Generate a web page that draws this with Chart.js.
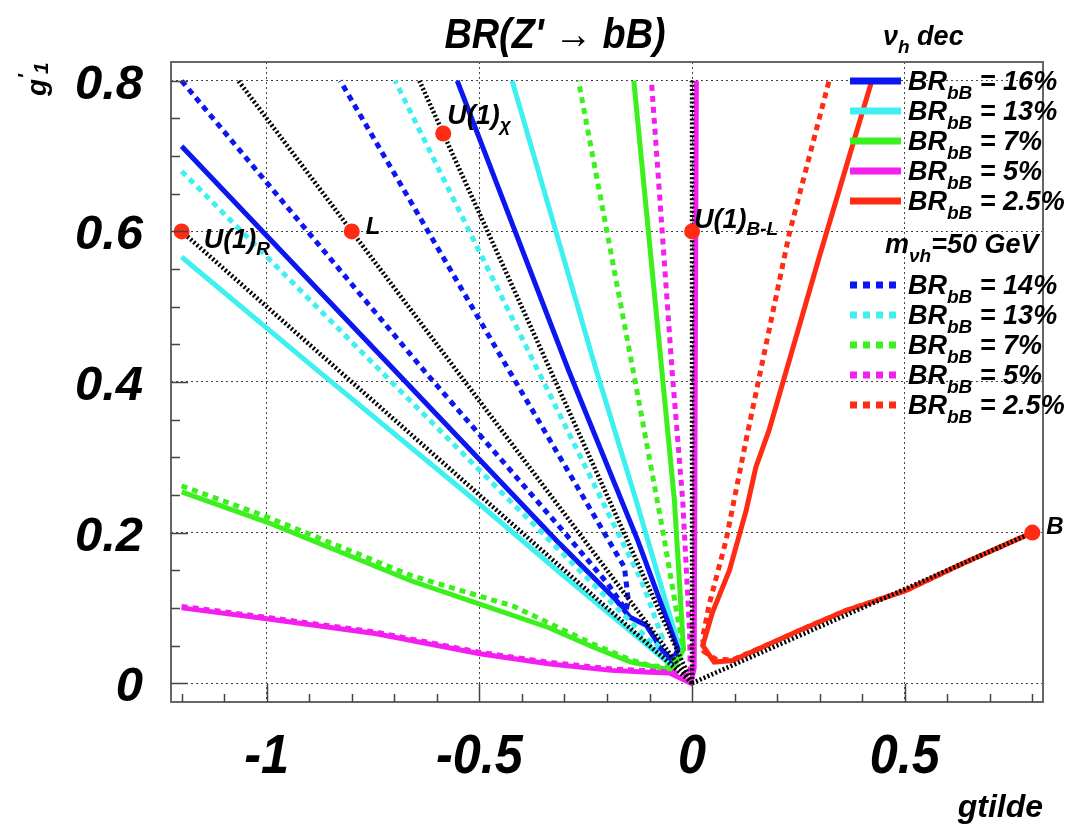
<!DOCTYPE html>
<html>
<head>
<meta charset="utf-8">
<title>BR(Z' → bB)</title>
<script src="https://cdn.jsdelivr.net/npm/chart.js@4.4.0/dist/chart.umd.min.js"></script>
<style>
  html, body { margin: 0; padding: 0; background: #fff; }
  canvas { display: block; }
</style>
</head>
<body>
<canvas id="chart" width="1071" height="826"></canvas>
<script>
// axis ticks
const xTicks = [-1, -0.5, 0, 0.5];
const xTickLabels = ['-1', '-0.5', '0', '0.5'];
const yTicks = [0, 0.2, 0.4, 0.6, 0.8];
const yTickLabels = ['0', '0.2', '0.4', '0.6', '0.8'];

// BR(Z' -> bB) contours with heavy neutrino decays (solid)
const brSolid = ['16%', '13%', '7%', '5%', '2.5%'];
const blueSolidX = [-1.2, -0.71, -0.311, -0.178, -0.147, -0.108, -0.085, -0.077, -0.046, -0.033, -0.128, -0.29, -0.552];
const blueSolidY = [0.713, 0.422, 0.185, 0.11, 0.088, 0.077, 0.057, 0.048, 0.03, 0.045, 0.19, 0.415, 0.8];
const cyanSolidX = [-1.2, -0.88, -0.5, -0.311, -0.1, -0.052, -0.028, -0.1315, -0.225, -0.423];
const cyanSolidY = [0.566, 0.415, 0.238, 0.147, 0.048, 0.025, 0.043, 0.2426, 0.415, 0.8];
const greenSolidX = [-1.2, -1.0, -0.661, -0.499, -0.338, -0.233, -0.144, -0.108, -0.061, -0.045, -0.02, -0.0415, -0.137];
const greenSolidY = [0.254, 0.214, 0.136, 0.105, 0.074, 0.048, 0.028, 0.024, 0.019, 0.019, 0.045, 0.2426, 0.8];
const magentaSolidX = [-1.2, -1.0, -0.742, -0.499, -0.338, -0.265, -0.19, -0.1, -0.053, -0.003, 0.005, 0.01];
const magentaSolidY = [0.1, 0.0855, 0.0656, 0.039, 0.0258, 0.0213, 0.017, 0.0145, 0.0135, 0.0, 0.02, 0.8];
const redSolidX = [0.8, 0.784, 0.635, 0.502, 0.3615, 0.252, 0.166, 0.095, 0.052, 0.025, 0.048, 0.088, 0.127, 0.15, 0.181, 0.299, 0.4225];
const redSolidY = [0.2, 0.196, 0.1585, 0.123, 0.0965, 0.07, 0.048, 0.03, 0.028, 0.05, 0.094, 0.15, 0.229, 0.287, 0.336, 0.566, 0.8];

// same contours for m_nuh = 50 GeV (dashed)
const brDashed = ['14%', '13%', '7%', '5%', '2.5%'];
const blueDashX = [-1.2, -0.63, -0.3, -0.198, -0.155, -0.15, -0.159, -0.21, -0.43, -0.827];
const blueDashY = [0.8, 0.415, 0.2, 0.132, 0.0965, 0.11, 0.154, 0.203, 0.415, 0.8];
const cyanDashX = [-1.2, -0.733, -0.265, -0.147, -0.085, -0.07, -0.104, -0.1228, -0.204, -0.362, -0.698];
const cyanDashY = [0.68, 0.415, 0.15, 0.083, 0.048, 0.06, 0.114, 0.1408, 0.2337, 0.415, 0.8];
const greenDashX = [-1.2, -1.0, -0.661, -0.419, -0.233, -0.144, -0.096, -0.055, -0.02, -0.03, -0.069, -0.1385, -0.267];
const greenDashY = [0.262, 0.221, 0.143, 0.102, 0.052, 0.031, 0.023, 0.021, 0.045, 0.074, 0.203, 0.415, 0.8];
const magentaDashX = [-1.2, -1.0, -0.742, -0.499, -0.338, -0.19, -0.1, -0.053, -0.004, -0.006, -0.022, -0.047, -0.0955];
const magentaDashY = [0.102, 0.0875, 0.0676, 0.041, 0.0278, 0.019, 0.0165, 0.0155, 0.01, 0.07, 0.2426, 0.415, 0.8];
const redDashX = [0.8, 0.784, 0.635, 0.502, 0.3615, 0.252, 0.166, 0.095, 0.055, 0.028, 0.025, 0.0406, 0.0798, 0.1268, 0.2284, 0.322];
const redDashY = [0.2, 0.196, 0.1585, 0.123, 0.0965, 0.07, 0.048, 0.031, 0.032, 0.042, 0.061, 0.1054, 0.1895, 0.3223, 0.5968, 0.8];

// benchmark models and their directions through the origin
const modelNames = ['U(1)_R', 'L', 'U(1)_χ', 'U(1)_B-L', 'B'];
const modelX = [-1.2, -0.8, -0.585, 0, 0.8];
const modelY = [0.6, 0.6, 0.73, 0.6, 0.2];
const rayEndX = [-1.2, -1.0667, -0.641, 0, 0.8];
const rayEndY = [0.6, 0.8, 0.8, 0.8, 0.2];

const BLUE = '#0b16f0';
const CYAN = '#3ff0f0';
const GREEN = '#3cf01e';
const MAGENTA = '#f51ef0';
const RED = '#ff2b12';
const colors = [BLUE, CYAN, GREEN, MAGENTA, RED];

const xy = (xs, ys) => xs.map((x, i) => ({ x, y: ys[i] }));

const solidSeries = [
    [blueSolidX, blueSolidY], [cyanSolidX, cyanSolidY], [greenSolidX, greenSolidY],
    [magentaSolidX, magentaSolidY], [redSolidX, redSolidY]
];
const dashSeries = [
    [blueDashX, blueDashY], [cyanDashX, cyanDashY], [greenDashX, greenDashY],
    [magentaDashX, magentaDashY], [redDashX, redDashY]
];

const datasets = [];
solidSeries.forEach(([xs, ys], i) => {
    datasets.push({
        label: 'BR_bB = ' + brSolid[i],
        data: xy(xs, ys),
        showLine: true,
        borderColor: colors[i],
        borderWidth: 5,
        pointRadius: 0,
        order: 4
    });
});
dashSeries.forEach(([xs, ys], i) => {
    datasets.push({
        label: 'BR_bB = ' + brDashed[i] + ' (m_nuh = 50 GeV)',
        data: xy(xs, ys),
        showLine: true,
        borderColor: colors[i],
        borderWidth: 5,
        borderDash: [6, 5],
        borderCapStyle: 'butt',
        pointRadius: 0,
        order: 3
    });
});
rayEndX.forEach((x, i) => {
    datasets.push({
        label: modelNames[i] + ' direction',
        data: xy([0, x], [0, rayEndY[i]]),
        showLine: true,
        borderColor: '#000',
        borderWidth: 4.5,
        borderDash: [2, 2.2],
        borderCapStyle: 'butt',
        pointRadius: 0,
        order: 2
    });
});
datasets.push({
    label: 'models',
    data: xy(modelX, modelY),
    showLine: false,
    pointRadius: 8,
    pointBackgroundColor: RED,
    pointBorderWidth: 0,
    order: 1
});

// text helpers: parts are [text, size, baseline shift]
const FONT = "'Liberation Sans', Arial, Helvetica, sans-serif";
const fontOf = size => 'italic bold ' + size + 'px ' + FONT;

function drawRich(ctx, parts, x, y, align, squeeze) {
    const sq = squeeze || 1;
    let w = 0;
    parts.forEach(p => { ctx.font = fontOf(p[1]); w += ctx.measureText(p[0]).width; });
    let cx = align === 'right' ? -w : align === 'center' ? -w / 2 : 0;
    ctx.save();
    ctx.translate(x, y);
    ctx.scale(sq, 1);
    ctx.fillStyle = '#000';
    ctx.textAlign = 'left';
    ctx.textBaseline = 'alphabetic';
    parts.forEach(p => {
        ctx.font = fontOf(p[1]);
        ctx.fillText(p[0], cx, p[2] || 0);
        cx += ctx.measureText(p[0]).width;
    });
    ctx.restore();
}

const labelStyle = {
    'U(1)_R': { dx: 22, dy: 17, size: 27 },
    'L': { dx: 14, dy: 3, size: 24 },
    'U(1)_χ': { dx: 4, dy: -10, size: 27 },
    'U(1)_B-L': { dx: 2, dy: -3, size: 27 },
    'B': { dx: 14, dy: 1, size: 24 }
};

const framePlugin = {
    id: 'frame',
    beforeDraw(chart) {
        const ctx = chart.ctx;
        ctx.save();
        ctx.fillStyle = '#fff';
        ctx.fillRect(0, 0, chart.width, chart.height);
        ctx.restore();
    },
    afterDraw(chart) {
        const ctx = chart.ctx;
        const { left, right, top, bottom } = chart.chartArea;
        const xs = chart.scales.x, ys = chart.scales.y;

        // frame and ticks
        ctx.save();
        ctx.strokeStyle = '#666';
        ctx.lineWidth = 2;
        ctx.strokeRect(left, top, right - left, bottom - top);
        ctx.lineWidth = 1.5;
        ctx.strokeStyle = '#444';
        ctx.beginPath();
        for (let i = 0; i <= 20; i++) {
            const v = -1.2 + i * 0.1;
            const px = Math.round(xs.getPixelForValue(v)) + 0.5;
            const major = xTicks.some(t => Math.abs(t - v) < 1e-6);
            ctx.moveTo(px, bottom);
            ctx.lineTo(px, bottom - (major ? 18 : 8));
        }
        for (let i = 0; i <= 16; i++) {
            const v = i * 0.05;
            const py = Math.round(ys.getPixelForValue(v)) + 0.5;
            const major = yTicks.some(t => Math.abs(t - v) < 1e-6);
            ctx.moveTo(left, py);
            ctx.lineTo(left + (major ? 17 : 9), py);
        }
        ctx.stroke();
        ctx.restore();

        // tick labels
        xTicks.forEach((v, i) => {
            drawRich(ctx, [[xTickLabels[i], 56]], xs.getPixelForValue(v), 773, 'center', 0.9);
        });
        yTicks.forEach((v, i) => {
            drawRich(ctx, [[yTickLabels[i], 49]], 143, ys.getPixelForValue(v) + 18, 'right');
        });

        // titles
        drawRich(ctx, [["BR(Z' → bB)", 42]], 555, 48, 'center', 0.9);
        drawRich(ctx, [['gtilde', 32]], right, 817, 'right');
        ctx.save();
        ctx.translate(46, 96);
        ctx.rotate(-Math.PI / 2);
        drawRich(ctx, [['g', 28], ["'", 21, -14], ['1', 21, 2]], 0, 0, 'left');
        ctx.restore();

        // model labels
        modelNames.forEach((name, i) => {
            const st = labelStyle[name];
            const [main, sub] = name.split('_');
            const parts = [[main, st.size]];
            if (sub) parts.push([sub, Math.round(st.size * 0.7), 7]);
            drawRich(ctx, parts,
                xs.getPixelForValue(modelX[i]) + st.dx,
                ys.getPixelForValue(modelY[i]) + st.dy, 'left');
        });

        // legend
        const sampleL = 850, sampleR = 901, textX = 908;
        const drawGroup = (labels, y0, dash) => {
            labels.forEach((lab, i) => {
                const y = y0 + i * 30;
                ctx.save();
                ctx.strokeStyle = colors[i];
                ctx.lineWidth = 7;
                ctx.lineCap = 'butt';
                ctx.setLineDash(dash);
                ctx.beginPath();
                ctx.moveTo(sampleL, y);
                ctx.lineTo(sampleR, y);
                ctx.stroke();
                ctx.restore();
                drawRich(ctx, [['BR', 27], ['bB', 19, 9], [' = ' + lab, 27]], textX, y + 9, 'left');
            });
        };
        drawRich(ctx, [['ν', 27], ['h', 19, 8], [' dec', 27]], 883, 45, 'left');
        drawGroup(brSolid, 81, []);
        drawRich(ctx, [['m', 27], ['νh', 19, 9], ['=50 GeV', 27]], 885, 253, 'left');
        drawGroup(brDashed, 285, [7, 6]);
    }
};

new Chart(document.getElementById('chart'), {
    type: 'scatter',
    data: { datasets },
    options: {
        responsive: false,
        animation: false,
        devicePixelRatio: 1,
        layout: { padding: { left: 171, right: 28, top: 62, bottom: 124 } },
        elements: { line: { tension: 0, fill: false } },
        plugins: { legend: { display: false }, tooltip: { enabled: false } },
        scales: {
            x: {
                type: 'linear',
                min: -1.225,
                max: 0.825,
                afterBuildTicks: axis => { axis.ticks = xTicks.map(v => ({ value: v })); },
                afterFit: axis => { axis.height = 0; },
                ticks: { display: false },
                grid: { color: '#444', lineWidth: 1, drawTicks: false },
                border: { display: false, dash: [2, 3] }
            },
            y: {
                type: 'linear',
                min: -0.025,
                max: 0.825,
                afterBuildTicks: axis => { axis.ticks = yTicks.map(v => ({ value: v })); },
                afterFit: axis => { axis.width = 0; },
                ticks: { display: false },
                grid: { color: '#444', lineWidth: 1, drawTicks: false },
                border: { display: false, dash: [2, 3] }
            }
        }
    },
    plugins: [framePlugin]
});
</script>
</body>
</html>
